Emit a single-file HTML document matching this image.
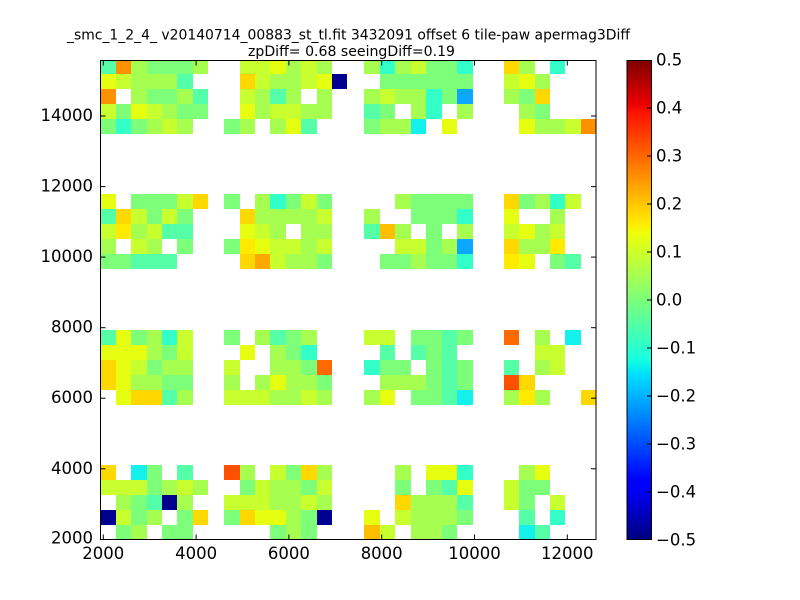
<!DOCTYPE html>
<html><head><meta charset="utf-8"><style>
html,body{margin:0;padding:0;background:#fff;}
body{width:800px;height:600px;position:relative;overflow:hidden;font-family:"DejaVu Sans","Liberation Sans",sans-serif;}
.ax{position:absolute;left:100px;top:60px;width:496px;height:480px;overflow:hidden;background:#fff;}
.bk{position:absolute;display:grid;grid-template-rows:repeat(5,15px);height:75px;}
.bk i{display:block;}
.c7{grid-template-columns:repeat(7,1fr);}
.c8{grid-template-columns:repeat(8,1fr);}
.c6{grid-template-columns:repeat(6,1fr);}
.g1{left:0.5px;width:107.8px;}
.g2{left:124.3px;width:123.2px;}
.g3{left:264.3px;width:108.5px;}
.g4{left:404px;width:92px;}
.bA{top:-1px;}.bB{top:134px;}.bC{top:270px;}.bD{top:405px;}
.g{background:#7dff7a}.l{background:#a6ff50}.y{background:#c8ff2e}.k{background:#e6ff10}
.e{background:#ffea00}.o{background:#ffd800}.q{background:#ffbf00}.a{background:#ffa800}
.r{background:#ff9000}.p{background:#ff6a00}.x{background:#ff5000}.m{background:#55ffa8}
.t{background:#33ffc8}.c{background:#14f0ec}.b{background:#0aa8ff}.n{background:#000090}
svg.ov{position:absolute;left:0;top:0;}
</style></head><body>
<div class="ax">
<!-- Band A -->
<div class="bk c7 g1 bA">
<i class=m></i><i class=r></i><i class=l></i><i class=g></i><i class=g></i><i class=g></i><i class=l></i>
<i class=k></i><i class=y></i><i class=l></i><i class=l></i><i class=l></i><i class=m></i><i></i>
<i class=r></i><i></i><i class=l></i><i class=g></i><i class=g></i><i class=l></i><i class=m></i>
<i class=y></i><i class=g></i><i class=k></i><i class=y></i><i class=l></i><i class=g></i><i class=g></i>
<i class=g></i><i class=t></i><i class=g></i><i class=l></i><i class=y></i><i class=l></i><i></i>
</div>
<div class="bk c8 g2 bA">
<i></i><i class=y></i><i class=y></i><i class=k></i><i class=l></i><i class=y></i><i class=l></i><i></i>
<i></i><i class=o></i><i class=y></i><i class=l></i><i class=l></i><i class=y></i><i class=k></i><i class=n></i>
<i></i><i class=y></i><i class=l></i><i class=m></i><i class=l></i><i></i><i class=l></i><i></i>
<i></i><i class=k></i><i class=l></i><i class=y></i><i class=y></i><i class=l></i><i class=l></i><i></i>
<i class=g></i><i class=l></i><i></i><i class=l></i><i class=k></i><i class=m></i><i></i><i></i>
</div>
<div class="bk c7 g3 bA">
<i class=l></i><i class=t></i><i class=l></i><i class=y></i><i class=g></i><i class=g></i><i class=t></i>
<i></i><i class=g></i><i class=g></i><i class=g></i><i class=g></i><i class=g></i><i class=g></i>
<i class=l></i><i class=y></i><i class=l></i><i class=l></i><i class=t></i><i class=g></i><i class=b></i>
<i class=m></i><i class=g></i><i></i><i class=l></i><i class=t></i><i></i><i class=l></i>
<i class=g></i><i class=l></i><i class=l></i><i class=c></i><i></i><i class=k></i><i></i>
</div>
<div class="bk c6 g4 bA">
<i class=o></i><i class=l></i><i></i><i class=t></i><i></i><i></i>
<i class=y></i><i class=k></i><i class=l></i><i></i><i></i><i></i>
<i class=l></i><i class=g></i><i class=o></i><i></i><i></i><i></i>
<i></i><i class=l></i><i class=g></i><i></i><i></i><i></i>
<i></i><i class=k></i><i class=l></i><i class=l></i><i class=y></i><i class=r></i>
</div>
<!-- Band B -->
<div class="bk c7 g1 bB">
<i class=k></i><i></i><i class=g></i><i class=g></i><i class=g></i><i class=y></i><i class=o></i>
<i class=m></i><i class=o></i><i class=y></i><i class=g></i><i class=y></i><i class=g></i><i></i>
<i class=y></i><i class=e></i><i class=l></i><i class=y></i><i class=m></i><i class=m></i><i></i>
<i class=l></i><i></i><i class=y></i><i class=l></i><i></i><i class=g></i><i></i>
<i class=g></i><i class=g></i><i class=m></i><i class=m></i><i class=m></i><i></i><i></i>
</div>
<div class="bk c8 g2 bB">
<i class=g></i><i></i><i class=l></i><i class=t></i><i class=g></i><i class=y></i><i class=g></i><i></i>
<i></i><i class=o></i><i class=l></i><i class=l></i><i class=l></i><i class=l></i><i class=y></i><i></i>
<i></i><i class=k></i><i class=y></i><i class=l></i><i></i><i class=l></i><i class=l></i><i></i>
<i class=g></i><i class=e></i><i class=k></i><i class=y></i><i class=y></i><i class=l></i><i class=y></i><i></i>
<i></i><i class=o></i><i class=a></i><i class=y></i><i class=l></i><i class=l></i><i class=g></i><i></i>
</div>
<div class="bk c7 g3 bB">
<i></i><i></i><i class=l></i><i class=g></i><i class=g></i><i class=g></i><i class=g></i>
<i class=l></i><i></i><i></i><i class=g></i><i class=g></i><i class=g></i><i class=t></i>
<i class=m></i><i class=q></i><i class=l></i><i></i><i class=g></i><i></i><i class=l></i>
<i></i><i></i><i class=y></i><i class=y></i><i class=g></i><i class=l></i><i class=b></i>
<i></i><i class=g></i><i class=g></i><i class=l></i><i class=g></i><i class=g></i><i class=t></i>
</div>
<div class="bk c6 g4 bB">
<i class=o></i><i class=g></i><i class=l></i><i class=t></i><i class=y></i><i></i>
<i class=k></i><i></i><i></i><i class=l></i><i></i><i></i>
<i class=y></i><i class=k></i><i class=l></i><i class=y></i><i></i><i></i>
<i class=o></i><i class=l></i><i class=l></i><i class=e></i><i></i><i></i>
<i class=e></i><i class=k></i><i></i><i class=g></i><i class=m></i><i></i>
</div>
<!-- Band C -->
<div class="bk c7 g1 bC">
<i class=m></i><i class=k></i><i class=g></i><i class=l></i><i class=t></i><i class=y></i><i></i>
<i class=k></i><i class=k></i><i class=k></i><i class=l></i><i class=g></i><i class=y></i><i></i>
<i class=o></i><i class=k></i><i class=y></i><i class=g></i><i class=l></i><i class=l></i><i></i>
<i class=o></i><i class=k></i><i class=l></i><i class=l></i><i class=g></i><i class=g></i><i></i>
<i></i><i class=k></i><i class=o></i><i class=o></i><i class=m></i><i class=l></i><i></i>
</div>
<div class="bk c8 g2 bC">
<i class=g></i><i></i><i class=l></i><i class=m></i><i class=g></i><i class=l></i><i></i><i></i>
<i></i><i class=k></i><i></i><i class=l></i><i class=g></i><i class=t></i><i></i><i></i>
<i class=y></i><i></i><i></i><i class=l></i><i class=l></i><i class=g></i><i class=p></i><i></i>
<i class=l></i><i></i><i class=l></i><i class=k></i><i class=l></i><i class=l></i><i class=g></i><i></i>
<i class=y></i><i class=y></i><i class=y></i><i class=l></i><i class=l></i><i class=y></i><i class=l></i><i></i>
</div>
<div class="bk c7 g3 bC">
<i class=y></i><i class=y></i><i></i><i class=g></i><i class=g></i><i class=m></i><i class=g></i>
<i></i><i class=m></i><i></i><i class=m></i><i class=g></i><i class=m></i><i></i>
<i class=t></i><i class=g></i><i class=g></i><i></i><i class=g></i><i class=m></i><i class=g></i>
<i></i><i class=l></i><i class=l></i><i class=l></i><i class=g></i><i class=m></i><i class=g></i>
<i class=l></i><i class=k></i><i></i><i class=g></i><i class=g></i><i class=m></i><i class=c></i>
</div>
<div class="bk c6 g4 bC">
<i class=p></i><i></i><i class=l></i><i></i><i class=c></i><i></i>
<i></i><i></i><i class=y></i><i class=y></i><i></i><i></i>
<i class=m></i><i></i><i class=l></i><i class=y></i><i></i><i></i>
<i class=x></i><i class=o></i><i></i><i></i><i></i><i></i>
<i class=l></i><i class=e></i><i class=l></i><i></i><i></i><i class=o></i>
</div>
<!-- Band D -->
<div class="bk c7 g1 bD">
<i class=o></i><i></i><i class=c></i><i class=g></i><i></i><i class=m></i><i></i>
<i class=y></i><i class=y></i><i class=y></i><i class=g></i><i class=l></i><i class=y></i><i class=l></i>
<i></i><i class=l></i><i class=g></i><i class=m></i><i class=n></i><i class=l></i><i></i>
<i class=n></i><i class=y></i><i class=g></i><i class=l></i><i></i><i class=g></i><i class=o></i>
<i></i><i class=g></i><i class=l></i><i></i><i class=g></i><i class=g></i><i></i>
</div>
<div class="bk c8 g2 bD">
<i class=x></i><i class=l></i><i></i><i class=y></i><i class=g></i><i class=o></i><i class=l></i><i></i>
<i></i><i class=g></i><i class=y></i><i class=l></i><i class=l></i><i class=g></i><i class=y></i><i></i>
<i class=y></i><i class=y></i><i class=y></i><i class=l></i><i class=l></i><i class=y></i><i class=l></i><i></i>
<i class=g></i><i class=o></i><i class=k></i><i class=k></i><i class=l></i><i class=g></i><i class=n></i><i></i>
<i></i><i></i><i></i><i class=g></i><i class=l></i><i class=g></i><i></i><i></i>
</div>
<div class="bk c7 g3 bD">
<i></i><i></i><i class=l></i><i></i><i class=k></i><i class=k></i><i class=t></i>
<i></i><i></i><i class=g></i><i></i><i class=g></i><i class=m></i><i class=k></i>
<i></i><i></i><i class=o></i><i class=l></i><i class=l></i><i class=l></i><i class=m></i>
<i class=k></i><i></i><i class=y></i><i class=l></i><i class=l></i><i class=l></i><i class=g></i>
<i class=q></i><i class=y></i><i></i><i class=l></i><i class=l></i><i class=g></i><i></i>
</div>
<div class="bk c6 g4 bD">
<i></i><i class=l></i><i class=k></i><i></i><i></i><i></i>
<i class=y></i><i class=g></i><i class=g></i><i></i><i></i><i></i>
<i class=y></i><i class=g></i><i></i><i class=y></i><i></i><i></i>
<i></i><i class=m></i><i></i><i class=t></i><i></i><i></i>
<i></i><i class=c></i><i class=m></i><i></i><i></i><i></i>
</div>
</div>

<svg class="ov" width="800" height="600" viewBox="0 0 800 600" xmlns="http://www.w3.org/2000/svg">
<defs>
<linearGradient id="jet" x1="0" y1="1" x2="0" y2="0">
<stop offset="0" stop-color="rgb(0,0,128)"/>
<stop offset="0.11" stop-color="rgb(0,0,255)"/>
<stop offset="0.125" stop-color="rgb(0,0,255)"/>
<stop offset="0.34" stop-color="rgb(0,219,255)"/>
<stop offset="0.35" stop-color="rgb(0,230,247)"/>
<stop offset="0.375" stop-color="rgb(21,255,226)"/>
<stop offset="0.64" stop-color="rgb(239,255,8)"/>
<stop offset="0.65" stop-color="rgb(247,245,0)"/>
<stop offset="0.66" stop-color="rgb(255,236,0)"/>
<stop offset="0.89" stop-color="rgb(255,19,0)"/>
<stop offset="0.91" stop-color="rgb(232,0,0)"/>
<stop offset="1" stop-color="rgb(128,0,0)"/>
</linearGradient>
</defs>
<g font-family="DejaVu Sans, Liberation Sans, sans-serif" fill="#000">
<text x="348.5" y="39.5" font-size="14" text-anchor="middle" textLength="563" lengthAdjust="spacingAndGlyphs">_smc_1_2_4_ v20140714_00883_st_tl.fit 3432091 offset 6 tile-paw apermag3Diff</text>
<text x="248" y="56" font-size="14" textLength="207" lengthAdjust="spacingAndGlyphs">zpDiff= 0.68 seeingDiff=0.19</text>
</g>
<rect x="100.5" y="60.5" width="495.5" height="479" fill="none" stroke="#000" stroke-width="1"/>
<g stroke="#000" stroke-width="1">
<line x1="103.3" y1="539.5" x2="103.3" y2="534.5"/><line x1="103.3" y1="60.5" x2="103.3" y2="65.5"/>
<line x1="196.1" y1="539.5" x2="196.1" y2="534.5"/><line x1="196.1" y1="60.5" x2="196.1" y2="65.5"/>
<line x1="288.9" y1="539.5" x2="288.9" y2="534.5"/><line x1="288.9" y1="60.5" x2="288.9" y2="65.5"/>
<line x1="381.7" y1="539.5" x2="381.7" y2="534.5"/><line x1="381.7" y1="60.5" x2="381.7" y2="65.5"/>
<line x1="474.5" y1="539.5" x2="474.5" y2="534.5"/><line x1="474.5" y1="60.5" x2="474.5" y2="65.5"/>
<line x1="567.3" y1="539.5" x2="567.3" y2="534.5"/><line x1="567.3" y1="60.5" x2="567.3" y2="65.5"/>
<line x1="100.5" y1="468.8" x2="105.5" y2="468.8"/><line x1="596" y1="468.8" x2="591" y2="468.8"/>
<line x1="100.5" y1="398.2" x2="105.5" y2="398.2"/><line x1="596" y1="398.2" x2="591" y2="398.2"/>
<line x1="100.5" y1="327.7" x2="105.5" y2="327.7"/><line x1="596" y1="327.7" x2="591" y2="327.7"/>
<line x1="100.5" y1="257.1" x2="105.5" y2="257.1"/><line x1="596" y1="257.1" x2="591" y2="257.1"/>
<line x1="100.5" y1="186.6" x2="105.5" y2="186.6"/><line x1="596" y1="186.6" x2="591" y2="186.6"/>
<line x1="100.5" y1="116" x2="105.5" y2="116"/><line x1="596" y1="116" x2="591" y2="116"/>
</g>
<g font-family="DejaVu Sans, Liberation Sans, sans-serif" font-size="16.5" fill="#000">
<g text-anchor="middle">
<text x="103.3" y="559">2000</text>
<text x="196.1" y="559">4000</text>
<text x="288.9" y="559">6000</text>
<text x="381.7" y="559">8000</text>
<text x="474.5" y="559">10000</text>
<text x="567.3" y="559">12000</text>
</g>
<g text-anchor="end">
<text x="93" y="543.5">2000</text>
<text x="93" y="473.8">4000</text>
<text x="93" y="403.2">6000</text>
<text x="93" y="332.7">8000</text>
<text x="93" y="262.1">10000</text>
<text x="93" y="191.6">12000</text>
<text x="93" y="121">14000</text>
</g>
</g>
<rect x="627" y="60.5" width="24.5" height="479" fill="url(#jet)" stroke="#000" stroke-width="1"/>
<g stroke="#000" stroke-width="1">
<line x1="651.5" y1="108" x2="647" y2="108"/>
<line x1="651.5" y1="156" x2="647" y2="156"/>
<line x1="651.5" y1="204" x2="647" y2="204"/>
<line x1="651.5" y1="252" x2="647" y2="252"/>
<line x1="651.5" y1="300" x2="647" y2="300"/>
<line x1="651.5" y1="348" x2="647" y2="348"/>
<line x1="651.5" y1="396" x2="647" y2="396"/>
<line x1="651.5" y1="444" x2="647" y2="444"/>
<line x1="651.5" y1="492" x2="647" y2="492"/>
</g>
<g font-family="DejaVu Sans, Liberation Sans, sans-serif" font-size="16.5" fill="#000">
<text x="656" y="65.5">0.5</text>
<text x="656" y="113.5">0.4</text>
<text x="656" y="161.5">0.3</text>
<text x="656" y="209.5">0.2</text>
<text x="656" y="257.5">0.1</text>
<text x="656" y="305.5">0.0</text>
<text x="656" y="353.5">−0.1</text>
<text x="656" y="401.5">−0.2</text>
<text x="656" y="449.5">−0.3</text>
<text x="656" y="497.5">−0.4</text>
<text x="656" y="545.5">−0.5</text>
</g>
</svg>
</body></html>
